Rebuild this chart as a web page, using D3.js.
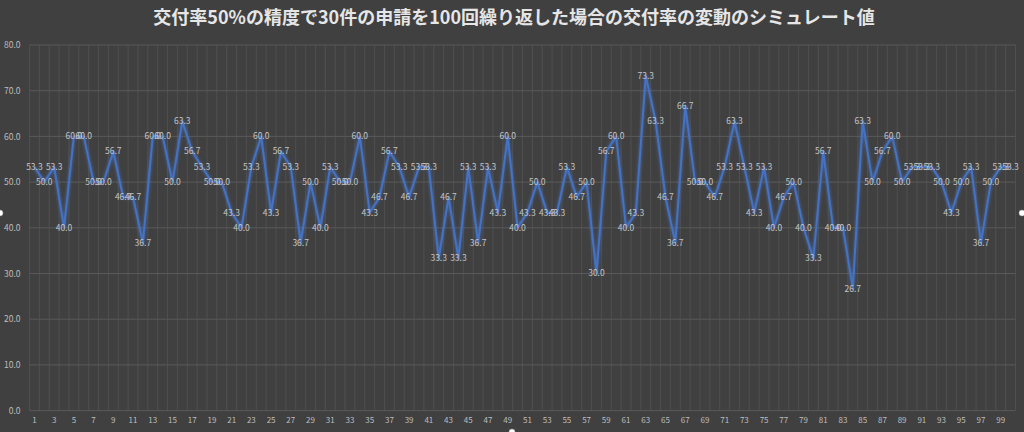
<!DOCTYPE html>
<html>
<head>
<meta charset="utf-8">
<script src="https://cdn.jsdelivr.net/npm/d3@7"></script>
<style>
  html, body { margin: 0; padding: 0; background: #404040; }
  svg { display: block; }
</style>
</head>
<body>
<svg id="chart" width="1024" height="432"></svg>
<script>
const title = "交付率50%の精度で30件の申請を100回繰り返した場合の交付率の変動のシミュレート値";
const categories = d3.range(1, 101);
const values = [
  53.3, 50.0, 53.3, 40.0, 60.0, 60.0, 50.0, 50.0, 56.7, 46.7,
  46.7, 36.7, 60.0, 60.0, 50.0, 63.3, 56.7, 53.3, 50.0, 50.0,
  43.3, 40.0, 53.3, 60.0, 43.3, 56.7, 53.3, 36.7, 50.0, 40.0,
  53.3, 50.0, 50.0, 60.0, 43.3, 46.7, 56.7, 53.3, 46.7, 53.3,
  53.3, 33.3, 46.7, 33.3, 53.3, 36.7, 53.3, 43.3, 60.0, 40.0,
  43.3, 50.0, 43.3, 43.3, 53.3, 46.7, 50.0, 30.0, 56.7, 60.0,
  40.0, 43.3, 73.3, 63.3, 46.7, 36.7, 66.7, 50.0, 50.0, 46.7,
  53.3, 63.3, 53.3, 43.3, 53.3, 40.0, 46.7, 50.0, 40.0, 33.3,
  56.7, 40.0, 40.0, 26.7, 63.3, 50.0, 56.7, 60.0, 50.0, 53.3,
  53.3, 53.3, 50.0, 43.3, 50.0, 53.3, 36.7, 50.0, 53.3, 53.3
];
const yTicks = [0, 10, 20, 30, 40, 50, 60, 70, 80];
const xTickLabels = categories.filter(c => c % 2 === 1);

(function () {
const svg = d3.select("#chart");
const W = 1024, H = 432;
const pL = 29.5, pR = 1015.5, pT = 45, pB = 410.6;

svg.append("rect").attr("width", W).attr("height", H).attr("fill", "#404040");

const x = d3.scaleBand().domain(categories).range([pL, pR]).paddingInner(0).paddingOuter(0);
const y = d3.scaleLinear().domain([0, 80]).range([pB, pT]);
const cx = c => x(c) + x.bandwidth() / 2;

// vertical gridlines (category boundaries)
const bounds = categories.map(c => x(c)).concat([x(categories[categories.length - 1]) + x.bandwidth()]);
svg.append("g").selectAll("line").data(bounds).join("line")
  .attr("x1", d => d).attr("x2", d => d)
  .attr("y1", pT).attr("y2", pB)
  .attr("stroke", "#4f4f4f").attr("stroke-width", 1);

// horizontal gridlines
svg.append("g").selectAll("line").data(yTicks).join("line")
  .attr("x1", pL).attr("x2", pR)
  .attr("y1", d => y(d)).attr("y2", d => y(d))
  .attr("stroke", "#595959").attr("stroke-width", 1);

// y axis
const yAxis = svg.append("g").attr("transform", `translate(${pL},0)`)
  .call(d3.axisLeft(y).tickValues(yTicks).tickFormat(d3.format(".1f")).tickSize(0).tickPadding(9));
yAxis.select(".domain").remove();
yAxis.selectAll("text").attr("fill", "#bdbdbd").style("font-family", "'Noto Sans CJK JP', 'Noto Sans', sans-serif").style("font-size", "8.5px");

// x axis
const xAxis = svg.append("g").attr("transform", `translate(0,${pB})`)
  .call(d3.axisBottom(x).tickValues(xTickLabels).tickSize(0).tickPadding(7));
xAxis.select(".domain").remove();
xAxis.selectAll("text").attr("fill", "#bdbdbd").style("font-family", "'Noto Sans CJK JP', 'Noto Sans', sans-serif").style("font-size", "8px");

// glow filter
const defs = svg.append("defs");
const f = defs.append("filter").attr("id", "glow")
  .attr("filterUnits", "userSpaceOnUse").attr("x", 0).attr("y", 0).attr("width", W).attr("height", H);
f.append("feGaussianBlur").attr("in", "SourceGraphic").attr("stdDeviation", 1.8);

const line = d3.line().x((d, i) => cx(categories[i])).y(d => y(d));

svg.append("path").datum(values)
  .attr("d", line)
  .attr("fill", "none")
  .attr("stroke", "#4f86e8")
  .attr("stroke-opacity", 0.45)
  .attr("stroke-width", 3)
  .attr("stroke-linejoin", "round")
  .attr("filter", "url(#glow)");

svg.append("path").datum(values)
  .attr("d", line)
  .attr("fill", "none")
  .attr("stroke", "#4472C4")
  .attr("stroke-width", 2)
  .attr("stroke-linejoin", "round");

// data labels
svg.append("g").selectAll("text").data(values).join("text")
  .attr("x", (d, i) => cx(categories[i]))
  .attr("y", d => y(d))
  .attr("dy", "0.35em")
  .attr("text-anchor", "middle")
  .attr("fill", "#c4c4c4")
  .style("font-family", "'Noto Sans CJK JP', 'Noto Sans', sans-serif")
  .style("font-size", "8.5px")
  .text(d => d.toFixed(1));

// title
svg.append("text")
  .attr("x", 514).attr("y", 24)
  .attr("text-anchor", "middle")
  .attr("fill", "#e6e6e6")
  .style("font-family", "'Noto Sans CJK JP', sans-serif")
  .style("font-weight", "bold")
  .style("font-size", "18px")
  .text(title);

// selection handles
const handles = [[0, 213], [1022, 213], [512, 432]];
svg.append("g").selectAll("circle").data(handles).join("circle")
  .attr("cx", d => d[0]).attr("cy", d => d[1]).attr("r", 3)
  .attr("fill", "#ffffff").attr("stroke", "#9a9a9a").attr("stroke-width", 0.5);
})();
</script>
</body>
</html>
